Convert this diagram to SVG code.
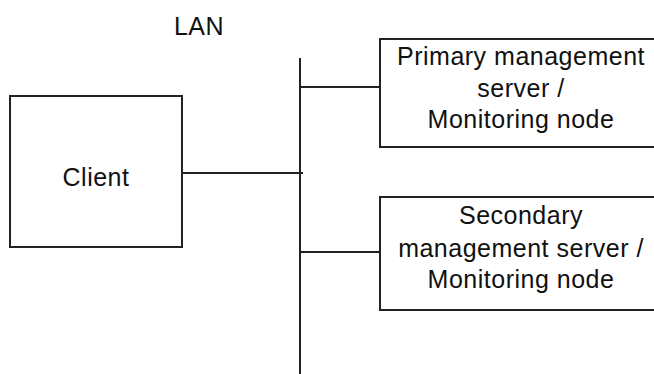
<svg xmlns="http://www.w3.org/2000/svg" width="654" height="374" viewBox="0 0 654 374">
<style>
.box{fill:#fff;stroke:#222;stroke-width:2}
.ln{stroke:#222;stroke-width:2;fill:none}
.t{font-family:"Liberation Sans",Arial,sans-serif;font-size:25px;letter-spacing:0.5px;fill:#111;text-anchor:middle}
</style>
<rect width="654" height="374" fill="#fff"/>
<g id="connectors">
<line class="ln" x1="300" y1="58" x2="300" y2="374"/>
<line class="ln" x1="182" y1="173" x2="303" y2="173"/>
<line class="ln" x1="300" y1="87" x2="380" y2="87"/>
<line class="ln" x1="300" y1="252" x2="380" y2="252"/>
</g>
<g id="lan">
<text class="t" x="199" y="35">LAN</text>
</g>
<g id="client">
<rect class="box" x="10" y="96" width="172" height="151"/>
<text class="t" x="96" y="186">Client</text>
</g>
<g id="primary">
<rect class="box" x="380" y="39" width="290" height="108"/>
<text class="t" x="521" y="65">Primary management</text>
<text class="t" x="521" y="97">server /</text>
<text class="t" x="521" y="128">Monitoring node</text>
</g>
<g id="secondary">
<rect class="box" x="380" y="197" width="290" height="113"/>
<text class="t" x="521" y="224">Secondary</text>
<text class="t" x="521" y="257">management server /</text>
<text class="t" x="521" y="288">Monitoring node</text>
</g>
</svg>
